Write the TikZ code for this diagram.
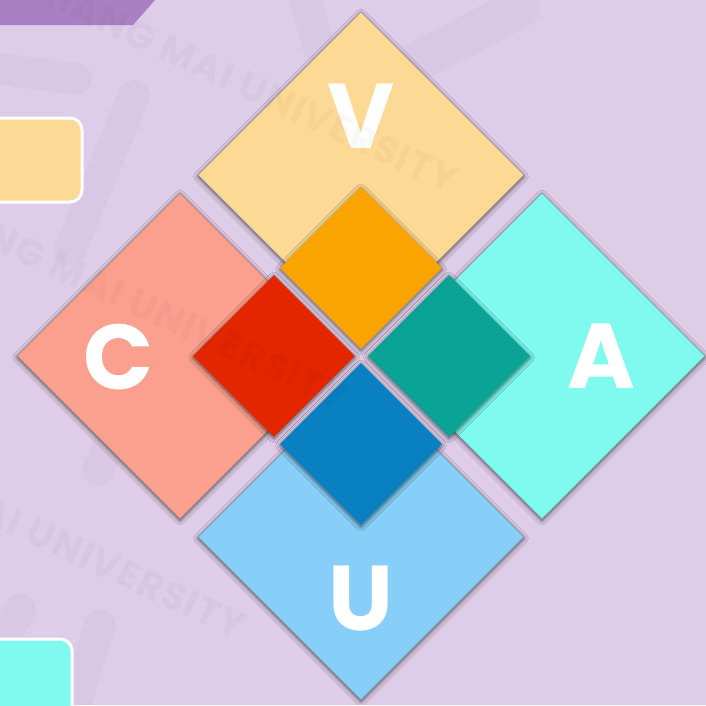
\documentclass[tikz,border=0pt]{standalone}
\usepackage{fontspec}
\newfontfamily\lettfont{Poppins}
\newfontfamily\wmfont[LetterSpace=4]{Poppins}
\usetikzlibrary{shapes.geometric,shadows.blur}
\definecolor{bg}{HTML}{DECDE8}
\definecolor{band}{HTML}{AA80C4}
\definecolor{cyel}{HTML}{FDD996}
\definecolor{csal}{HTML}{FBA08F}
\definecolor{ccya}{HTML}{80F9EE}
\definecolor{clbl}{HTML}{87CEF8}
\definecolor{corg}{HTML}{F9A400}
\definecolor{cred}{HTML}{E32600}
\definecolor{ctea}{HTML}{0AA396}
\definecolor{cblu}{HTML}{0880C2}
\begin{document}
\begin{tikzpicture}[x=1pt,y=-1pt,
  shad/.style={blur shadow={shadow xshift=0pt,shadow yshift=-1.5pt,shadow blur radius=4.5pt,shadow opacity=60,shadow blur steps=12}},
  big/.style={diamond, minimum width=326pt, minimum height=326pt, inner sep=0pt, shad, draw=black, draw opacity=0.18, line width=0.8pt},
  small/.style={diamond, minimum width=162pt, minimum height=162pt, inner sep=0pt, shad},
  letter/.style={text=white, font=\lettfont\bfseries\fontsize{92}{92}\selectfont, inner sep=0pt},
  wm/.style={text=black, text opacity=0.028, font=\wmfont\bfseries\fontsize{38}{38}\selectfont, inner sep=0pt, rotate=-25, anchor=east},
  logo/.style={draw=black, draw opacity=0.018, line width=32pt, line cap=round},
  tab/.style={draw=white, line width=3pt, rounded corners=12pt}]
\useasboundingbox (0,0) rectangle (706,705);
\clip (0,0) rectangle (706,705);
\fill[bg] (0,0) rectangle (706,705);
% faint logo strokes
\path[logo] (-20,66) -- (76,79);
\path[logo] (134,96) -- (70,250);
\path[logo] (98,470) -- (150,360);
\path[logo] (100,625) -- (70,720);
\path[logo] (20,610) -- (-30,700);
\path[logo, line width=40pt] (520,8) -- (420,60);
\path[logo] (300,-20) -- (318,45);
% top band
\fill[band] (0,0) -- (155,0) -- (133,25) -- (0,25) -- cycle;
% side tabs
\path[tab, fill=cyel] (-30,118) rectangle (82,202);
\path[tab, fill=ccya] (-30,639) rectangle (72,740);
% big diamonds
\node[big, fill=cyel] (V) at (361,175) {};
\node[big, fill=csal] (C) at (180,356) {};
\node[big, fill=ccya] (A) at (542,356) {};
\node[big, fill=clbl] (U) at (361,537) {};
% small diamonds
\node[small, fill=corg] (o) at (361,268) {};
\node[small, fill=cred] (r) at (274,356) {};
\node[small, fill=ctea] (t) at (449,356) {};
\node[small, fill=cblu] (b) at (361,444) {};
% letters
\node[letter] (lV) at (361,116) {V};
\node[letter] (lC) at (119,357) {C};
\node[letter] (lA) at (601,356) {A};
\node[letter] (lU) at (361,599) {U};
% watermark
\node[wm] (w1) at (455,182) {CHIANG MAI UNIVERSITY};
\node[wm] (w2) at (345,399) {CHIANG MAI UNIVERSITY};
\node[wm] (w3) at (243,628) {CHIANG MAI UNIVERSITY};
\end{tikzpicture}
\end{document}
